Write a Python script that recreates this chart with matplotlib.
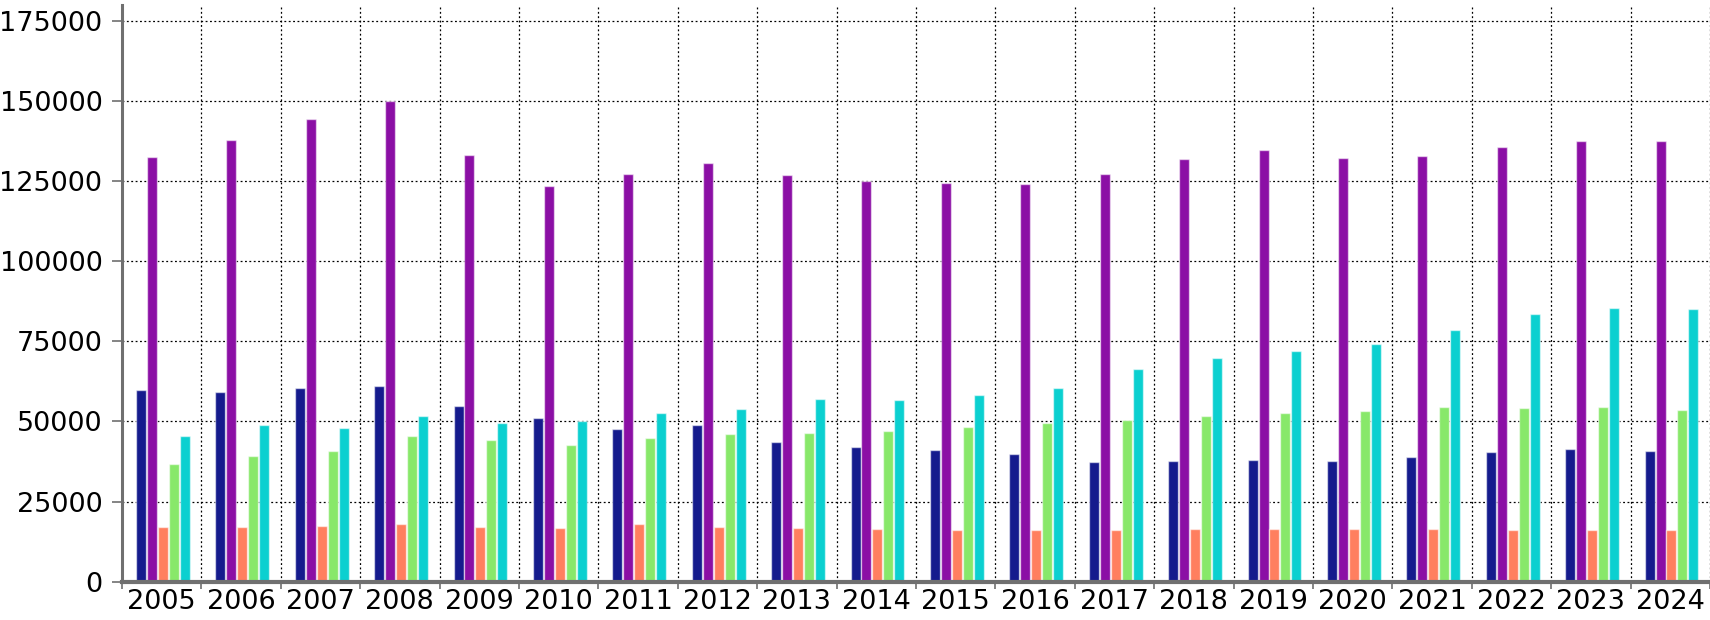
import matplotlib
matplotlib.use("Agg")
import matplotlib.pyplot as plt
import numpy as np

years = [str(y) for y in range(2005, 2025)]

series_blue = [59900, 59200, 60400, 60900, 54800, 51200, 47500, 48800, 43500, 42100,
               41000, 39800, 37200, 37700, 38000, 37600, 38900, 40600, 41400, 40800]
series_purple = [132500, 137700, 144300, 150000, 133200, 123500, 127200, 130600, 126900, 125000,
                 124300, 124100, 127200, 131800, 134600, 132100, 132800, 135700, 137400, 137500]
series_orange = [17000, 17100, 17300, 18000, 17200, 16800, 17900, 17100, 16600, 16400,
                 16100, 16200, 16100, 16300, 16500, 16300, 16300, 16000, 16100, 16200]
series_green = [36800, 39300, 40800, 45500, 44300, 42600, 44900, 46100, 46500, 46900,
                48300, 49600, 50300, 51800, 52600, 53400, 54500, 54200, 54600, 53500]
series_cyan = [45300, 49000, 48100, 51700, 49400, 50000, 52500, 54000, 57100, 56700,
               58300, 60400, 66200, 69700, 71900, 74300, 78400, 83500, 85500, 85100]

series = [series_blue, series_purple, series_orange, series_green, series_cyan]
colors = ["#151b8d", "#8b0fa5", "#ff7f5f", "#88e86a", "#0bd0d0"]
yticks = [0, 25000, 50000, 75000, 100000, 125000, 150000, 175000]

fig = plt.figure(figsize=(17.1, 6.2), dpi=100)
ax = fig.add_axes([0.0713, 0.0618, 0.9287, 0.9306])

x = np.arange(len(years))
w = 0.138
for i, (vals, c) in enumerate(zip(series, colors)):
    ax.bar(x + (i - 2) * w + 0.015, vals, width=w - 0.012, color=c,
           edgecolor=(1, 1, 1, 0.55), linewidth=1.0, zorder=3)

ax.set_xlim(-0.5, len(years) - 0.5)
ax.set_ylim(0, 180000)
ax.set_yticks(yticks)
ax.set_yticklabels([str(v) for v in yticks])
ax.set_xticks(x)
ax.set_xticklabels(years)
ax.set_xticks(np.arange(-0.5, len(years), 1.0), minor=True)

ax.tick_params(axis="x", which="major", length=0, labelsize=19.5, pad=5)
ax.tick_params(axis="x", which="minor", length=5, width=1.2, color="#707070")
ax.tick_params(axis="y", which="major", length=7, width=1.2, color="#707070",
               labelsize=19.5, pad=7)

ax.grid(False)
ax.yaxis.grid(True, which="major", linestyle=(0, (1.5, 2)), color="black", linewidth=0.9, zorder=1)
ax.xaxis.grid(True, which="minor", linestyle=(0, (1.5, 2)), color="black", linewidth=0.9, zorder=1)
ax.set_axisbelow(True)

for s in ["top", "right"]:
    ax.spines[s].set_visible(False)
ax.spines["left"].set_color("#707070")
ax.spines["left"].set_linewidth(2.2)
ax.spines["bottom"].set_color("#707070")
ax.spines["bottom"].set_linewidth(3.0)
ax.spines["bottom"].set_zorder(4)

fig.savefig("out.png", dpi=100)
